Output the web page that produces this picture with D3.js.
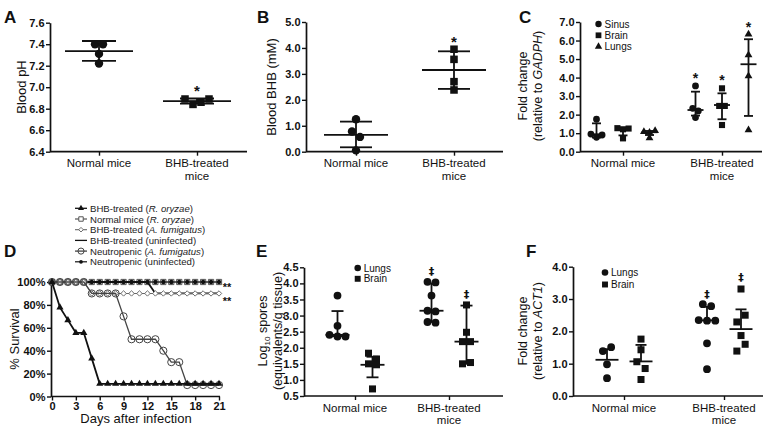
<!DOCTYPE html>
<html><head><meta charset="utf-8">
<script src="https://cdn.jsdelivr.net/npm/d3@7"></script>
<style>
body{margin:0;background:#fff}
svg{display:block}
</style></head><body>
<svg id="c" width="779" height="432"></svg>
<script>
// ---------------- DATA ----------------
const categories = ["Normal mice", "BHB-treated\nmice"];

// Panel A: blood pH
const phTicks = [6.4, 6.6, 6.8, 7.0, 7.2, 7.4, 7.6];
const phNormal = [7.40, 7.40, 7.31, 7.22];
const phBHB = [6.89, 6.84, 6.86, 6.89];
const phCenter = [7.335, 6.87];
const phHigh = [7.43, 6.895];
const phLow = [7.245, 6.848];

// Panel B: blood BHB (mM)
const bhbTicks = [0, 1, 2, 3, 4, 5];
const bhbNormal = [1.25, 0.78, 0.57, 0.05];
const bhbBHB = [3.95, 3.56, 2.70, 2.38];
const bhbCenter = [0.65, 3.15];
const bhbHigh = [1.16, 3.87];
const bhbLow = [0.17, 2.42];

// Panel C: fold change relative to GADPH
const cTicks = [0, 1, 2, 3, 4, 5, 6, 7];
const cTissues = ["Sinus", "Brain", "Lungs"];
const cNormalSinus = [1.75, 0.95, 0.78, 0.90];
const cNormalBrain = [1.27, 1.21, 1.25, 0.72];
const cNormalLungs = [1.08, 1.03, 1.13, 0.74];
const cBHBSinus = [3.55, 2.34, 2.20, 1.84];
const cBHBBrain = [3.42, 2.47, 2.47, 1.44];
const cBHBLungs = [6.34, 5.22, 4.09, 1.17];
const cCenterNormal = [0.94, 1.18, 1.05];
const cHighNormal = [1.53, 1.28, 1.12];
const cLowNormal = [0.76, 0.88, 0.90];
const cCenterBHB = [2.25, 2.52, 4.72];
const cHighBHB = [3.24, 3.15, 6.07];
const cLowBHB = [1.95, 1.75, 1.93];
const cStarBHB = [4.14, 4.01, 6.89];

// Panel D: survival
const days = [0,1,2,3,4,5,6,7,8,9,10,11,12,13,14,15,16,17,18,19,20,21];
const dTicksX = [0, 3, 6, 9, 12, 15, 18, 21];
const dTicksY = [0, 20, 40, 60, 80, 100];
const survBHBRo  = [100,77.8,66.7,55.6,55.6,33.3,11.1,11.1,11.1,11.1,11.1,11.1,11.1,11.1,11.1,11.1,11.1,11.1,11.1,11.1,11.1,11.1];
const survNormRo = [100,100,100,100,100,100,100,100,100,100,100,100,100,100,100,100,100,100,100,100,100,100];
const survBHBAf  = [100,100,100,100,100,90,90,90,90,90,90,90,90,90,90,90,90,90,90,90,90,90];
const survBHBUn  = [100,100,100,100,100,100,100,100,100,100,100,100,100,90,90,90,90,90,90,90,90,90];
const survNeuAf  = [100,100,100,100,100,90,90,90,90,70,50,50,50,50,40,30,30,10,10,10,10,10];
const survNeuUn  = [100,100,100,100,100,100,100,100,100,100,100,100,100,100,100,100,100,100,100,100,100,100];
const dLegend = [
  ["BHB-treated (", "R. oryzae", ")"],
  ["Normal mice (", "R. oryzae", ")"],
  ["BHB-treated (", "A. fumigatus", ")"],
  ["BHB-treated (uninfected)", "", ""],
  ["Neutropenic (", "A. fumigatus", ")"],
  ["Neutropenic (uninfected)", "", ""]
];

// Panel E: log10 spores
const eTicks = [0.5, 1.0, 1.5, 2.0, 2.5, 3.0, 3.5, 4.0, 4.5];
const eTissues = ["Lungs", "Brain"];
const eNormalLungs = [3.62, 2.68, 2.40, 2.35, 2.35];
const eNormalBrain = [1.83, 1.65, 1.50, 1.47, 0.72];
const eBHBLungs = [4.05, 4.03, 3.62, 3.15, 3.13, 2.80, 2.78];
const eBHBBrain = [3.33, 2.48, 2.19, 2.19, 1.50, 1.54];
const eCenterNormal = [2.40, 1.47];
const eHighNormal = [3.14, 1.72];
const eLowNormal = [2.36, 1.08];
const eCenterBHB = [3.15, 2.19];
const eHighBHB = [4.00, 3.31];
const eLowBHB = [2.80, 1.50];
const eDaggerBHB = [4.36, 3.64];

// Panel F: fold change relative to ACT1
const fTicks = [0, 1, 2, 3, 4];
const fNormalLungs = [1.39, 1.51, 0.98, 0.55];
const fNormalBrain = [1.76, 1.43, 1.06, 0.85, 0.51];
const fBHBLungs = [2.84, 2.78, 2.35, 2.33, 2.33, 1.63, 0.83];
const fBHBBrain = [3.31, 2.29, 2.50, 1.87, 1.39, 1.60];
const fCenterNormal = [1.12, 1.07];
const fHighNormal = [1.45, 1.58];
const fLowNormal = [1.12, 1.07];
const fCenterBHB = [2.34, 2.07];
const fHighBHB = [2.76, 2.68];
const fLowBHB = [2.34, 2.07];
const fDaggerBHB = [3.12, 3.66];

// ---------------- DRAWING ----------------
const FONT = '"Liberation Sans", Arial, Helvetica, sans-serif';
const INK = "#111";
const svg = d3.select("#c").attr("font-family", FONT);

function symPath(shape, r) {
  if (shape === "circle") return d3.symbol().type(d3.symbolCircle).size(Math.PI * r * r)();
  if (shape === "square") return d3.symbol().type(d3.symbolSquare).size((1.8 * r) ** 2)();
  if (shape === "triangle") return d3.symbol().type(d3.symbolTriangle).size(Math.sqrt(3) / 4 * (2.3 * r) ** 2)();
  if (shape === "diamond") return d3.symbol().type(d3.symbolSquare).size(2 * r * r)();
}

function layoutDots(vals, y, spacing, thr) {
  const order = vals.map((v, i) => i).sort((a, b) => vals[b] - vals[a] || a - b);
  const rows = [];
  order.forEach(i => {
    const py = y(vals[i]);
    const last = rows[rows.length - 1];
    if (last && Math.abs(last.y0 - py) < thr) last.items.push(i);
    else rows.push({ y0: py, items: [i] });
  });
  const out = [];
  rows.forEach(r => {
    r.items.sort((a, b) => a - b);
    const n = r.items.length;
    r.items.forEach((i, k) => out.push({ v: vals[i], py: y(vals[i]), dx: (k - (n - 1) / 2) * spacing }));
  });
  return out;
}

function panelLetter(t, x, y) {
  svg.append("text").attr("x", x).attr("y", y).text(t)
    .attr("font-size", 17).attr("font-weight", "bold").attr("fill", INK);
}

function rotTitle(x, y, lines, fs) {
  const t = svg.append("text").attr("transform", `translate(${x},${y}) rotate(-90)`)
    .attr("text-anchor", "middle").attr("font-size", fs).attr("fill", INK);
  lines.forEach((segs, li) => {
    const lineOffset = (li - (lines.length - 1) / 2) * (fs * 1.15);
    segs.forEach((s, si) => {
      const ts = t.append("tspan").text(s.t);
      if (si === 0) ts.attr("x", 0).attr("y", lineOffset + fs * 0.35);
      if (s.it) ts.attr("font-style", "italic");
      if (s.sub) ts.attr("font-size", fs * 0.65).attr("dy", fs * 0.25);
      if (s.after) ts.attr("dy", -fs * 0.25);
    });
  });
}

function yAxis(y, ticks, fmt, left) {
  const ax = svg.append("g").attr("transform", `translate(${left},0)`)
    .call(d3.axisLeft(y).tickValues(ticks).tickFormat(fmt).tickSize(4).tickSizeOuter(0));
  ax.select(".domain").attr("stroke", INK).attr("stroke-width", 1.7);
  ax.selectAll(".tick line").attr("stroke", INK).attr("stroke-width", 1.4);
  ax.selectAll(".tick text").attr("font-size", 11).attr("font-weight", "bold")
    .attr("font-family", FONT).attr("fill", INK).attr("x", -5.5);
  return ax;
}

function xCatAxis(x, left, right, bottom) {
  svg.append("line").attr("x1", left).attr("x2", right).attr("y1", bottom).attr("y2", bottom)
    .attr("stroke", INK).attr("stroke-width", 1.7);
  const ax = svg.append("g").attr("transform", `translate(0,${bottom})`)
    .call(d3.axisBottom(x).tickSize(4).tickSizeOuter(0).tickFormat(""));
  ax.select(".domain").remove();
  ax.selectAll(".tick line").attr("stroke", INK).attr("stroke-width", 1.4);
  categories.forEach(c => {
    const t = svg.append("text").attr("text-anchor", "middle").attr("font-size", 11.5).attr("fill", INK);
    c.split("\n").forEach((ln, i) => {
      t.append("tspan").attr("x", x(c)).attr("y", bottom + 15.5 + i * 12.5).text(ln);
    });
  });
}

function legendBox(items, x, y0, dy, r) {
  items.forEach((it, i) => {
    svg.append("path").attr("d", symPath(it.shape, r))
      .attr("transform", `translate(${x},${y0 + i * dy})`).attr("fill", INK);
    svg.append("text").attr("x", x + 6).attr("y", y0 + i * dy + 3.5)
      .attr("font-size", 10).attr("fill", INK).text(it.label);
  });
}

function annot(sym, x, yv, fs) {
  // centre glyph at (x, yv)
  const off = sym === "*" ? 0.57 : 0.3;
  const t = svg.append("text").attr("x", x).attr("y", yv + off * fs).attr("text-anchor", "middle")
    .attr("font-size", fs).attr("fill", INK).text(sym);
  if (sym === "*") t.attr("font-weight", "bold");
  else t.attr("font-family", '"DejaVu Sans", sans-serif').attr("font-weight", "bold");
}

function dotPanel(p) {
  const y = d3.scaleLinear().domain(p.yDomain).range([p.bottom, p.top]);
  const x = d3.scalePoint().domain(categories).range(p.centers);
  const xs = p.subs ? d3.scalePoint().domain(p.subs).range([-p.subW, p.subW]) : null;
  yAxis(y, p.yTicks, d3.format(".1f"), p.left);
  xCatAxis(x, p.left, p.right, p.bottom);
  p.groups.forEach(gr => {
    const cx = x(gr.cat) + (xs ? xs(gr.sub) : 0);
    const eg = svg.append("g").attr("stroke", INK).attr("stroke-width", 1.8);
    eg.append("line").attr("x1", cx).attr("x2", cx).attr("y1", y(gr.hi)).attr("y2", y(gr.lo));
    eg.append("line").attr("x1", cx - p.meanHalf).attr("x2", cx + p.meanHalf).attr("y1", y(gr.c)).attr("y2", y(gr.c));
    [gr.hi, gr.lo].forEach(v => {
      if (v !== gr.c) eg.append("line").attr("x1", cx - p.capHalf).attr("x2", cx + p.capHalf).attr("y1", y(v)).attr("y2", y(v));
    });
    const pos = layoutDots(gr.vals, y, p.spacing, 7);
    svg.append("g").selectAll("path").data(pos).join("path")
      .attr("d", symPath(gr.shape, p.r))
      .attr("transform", d => `translate(${cx + d.dx},${d.py})`)
      .attr("fill", INK);
    if (gr.star !== undefined) annot(p.starSym, cx, y(gr.star), p.starFs);
  });
  return { x, y, xs };
}

// ---- Panel A ----
panelLetter("A", 4, 23);
rotTitle(21, 87, [[{ t: "Blood pH" }]], 13);
dotPanel({
  left: 50, right: 247, top: 22.7, bottom: 151.7, yDomain: [6.4, 7.6], yTicks: phTicks,
  centers: [99, 197], r: 4.2, spacing: 8, meanHalf: 34, capHalf: 17, starSym: "*", starFs: 15,
  groups: [
    { cat: categories[0], vals: phNormal, c: phCenter[0], hi: phHigh[0], lo: phLow[0], shape: "circle" },
    { cat: categories[1], vals: phBHB, c: phCenter[1], hi: phHigh[1], lo: phLow[1], shape: "square", star: 6.995 }
  ]
});

// ---- Panel B ----
panelLetter("B", 257, 23);
rotTitle(271, 87, [[{ t: "Blood BHB (mM)" }]], 13);
dotPanel({
  left: 306, right: 503, top: 22, bottom: 151.7, yDomain: [0, 5], yTicks: bhbTicks,
  centers: [356, 454], r: 4.2, spacing: 8, meanHalf: 32, capHalf: 16, starSym: "*", starFs: 15,
  groups: [
    { cat: categories[0], vals: bhbNormal, c: bhbCenter[0], hi: bhbHigh[0], lo: bhbLow[0], shape: "circle" },
    { cat: categories[1], vals: bhbBHB, c: bhbCenter[1], hi: bhbHigh[1], lo: bhbLow[1], shape: "square", star: 4.37 }
  ]
});

// ---- Panel C ----
panelLetter("C", 519, 23);
rotTitle(530, 86, [[{ t: "Fold change" }], [{ t: "(relative to " }, { t: "GADPH", it: true }, { t: ")" }]], 12.5);
const cShapes = ["circle", "square", "triangle"];
const cNormVals = [cNormalSinus, cNormalBrain, cNormalLungs];
const cBHBVals = [cBHBSinus, cBHBBrain, cBHBLungs];
dotPanel({
  left: 580, right: 762, top: 22, bottom: 151.7, yDomain: [0, 7], yTicks: cTicks,
  centers: [623, 722], subs: cTissues, subW: 26.5, r: 3.4, spacing: 5.6, meanHalf: 8, capHalf: 4.5,
  starSym: "*", starFs: 14,
  groups: cTissues.map((t, i) => ({ cat: categories[0], sub: t, vals: cNormVals[i], c: cCenterNormal[i], hi: cHighNormal[i], lo: cLowNormal[i], shape: cShapes[i] }))
    .concat(cTissues.map((t, i) => ({ cat: categories[1], sub: t, vals: cBHBVals[i], c: cCenterBHB[i], hi: cHighBHB[i], lo: cLowBHB[i], shape: cShapes[i], star: cStarBHB[i] })))
});
legendBox(cTissues.map((t, i) => ({ label: t, shape: cShapes[i] })), 598.5, 24, 11.3, 3.2);

// ---- Panel D ----
panelLetter("D", 4, 257);
{
  const left = 51, right = 219, top = 282, bottom = 396.5;
  const x = d3.scaleLinear().domain([0, 21]).range([52, 219]);
  const y = d3.scaleLinear().domain([0, 100]).range([bottom, top]);
  yAxis(y, dTicksY, d => d + "%", left);
  const ax = svg.append("g").attr("transform", `translate(0,${bottom})`)
    .call(d3.axisBottom(x).tickValues(dTicksX).tickSize(4).tickSizeOuter(0));
  ax.select(".domain").remove();
  svg.append("line").attr("x1", left).attr("x2", right + 1).attr("y1", bottom).attr("y2", bottom)
    .attr("stroke", INK).attr("stroke-width", 1.7);
  ax.selectAll(".tick line").attr("stroke", INK).attr("stroke-width", 1.4);
  ax.selectAll(".tick text").attr("font-size", 11).attr("font-weight", "bold")
    .attr("font-family", FONT).attr("fill", INK).attr("y", 6);
  rotTitle(14, 339, [[{ t: "% Survival" }]], 13);
  svg.append("text").attr("x", 136).attr("y", 423).attr("text-anchor", "middle")
    .attr("font-size", 13).attr("fill", INK).text("Days after infection");

  const series = [
    { vals: survNormRo, shape: "square", r: 2.9, fill: "#fff", stroke: "#555", lw: 1.2, mw: 1 },
    { vals: survNeuUn, shape: "circle", r: 2.2, fill: INK, stroke: INK, lw: 1.2, mw: 0 },
    { vals: survBHBUn, shape: null, r: 0, fill: INK, stroke: INK, lw: 1.8, mw: 0 },
    { vals: survBHBAf, shape: "diamond", r: 2.7, fill: "#fff", stroke: "#666", lw: 1.1, mw: 0.9 },
    { vals: survNeuAf, shape: "circle", r: 3.6, fill: "none", stroke: "#444", lw: 1.3, mw: 1 },
    { vals: survBHBRo, shape: "triangle", r: 3.1, fill: INK, stroke: INK, lw: 1.8, mw: 0 }
  ];
  const line = d3.line().x((d, i) => x(days[i])).y(d => y(d));
  series.forEach(s => {
    svg.append("path").attr("d", line(s.vals)).attr("fill", "none").attr("stroke", s.stroke).attr("stroke-width", s.lw);
    if (s.shape) {
      svg.append("g").selectAll("path").data(s.vals).join("path")
        .attr("d", symPath(s.shape, s.r))
        .attr("transform", (d, i) => `translate(${x(days[i])},${y(d)})` + (s.shape === "diamond" ? " rotate(45)" : ""))
        .attr("fill", s.fill).attr("stroke", s.mw ? s.stroke : "none").attr("stroke-width", s.mw);
    }
  });
  // significance
  [[100, 3], [90, 5.5]].forEach(([v, off]) => {
    svg.append("text").attr("x", x(21) + 8).attr("y", y(v) + off + 0.57 * 11).attr("text-anchor", "middle")
      .attr("font-size", 11).attr("font-weight", "bold").attr("fill", INK).text("**");
  });
  // legend
  const legStyle = [series[5], series[0], series[3], series[2], series[4], series[1]];
  dLegend.forEach((segs, i) => {
    const ly = 208.3 + i * 10.7;
    const s = legStyle[i];
    svg.append("line").attr("x1", 75).attr("x2", 87).attr("y1", ly).attr("y2", ly)
      .attr("stroke", s.stroke).attr("stroke-width", Math.min(s.lw, 1.3));
    if (s.shape) {
      svg.append("path").attr("d", symPath(s.shape, s.r * 0.85))
        .attr("transform", `translate(81,${ly})` + (s.shape === "diamond" ? " rotate(45)" : ""))
        .attr("fill", s.fill).attr("stroke", s.mw ? s.stroke : "none").attr("stroke-width", s.mw);
    }
    const t = svg.append("text").attr("x", 90).attr("y", ly + 3.5).attr("font-size", 9.6).attr("fill", "#222");
    t.append("tspan").text(segs[0]);
    if (segs[1]) t.append("tspan").attr("font-style", "italic").text(segs[1]);
    if (segs[2]) t.append("tspan").text(segs[2]);
  });
}

// ---- Panel E ----
panelLetter("E", 256, 257);
rotTitle(270, 331, [[{ t: "Log" }, { t: "10", sub: true }, { t: " spores", after: true }], [{ t: "(equivalents/g tissue)" }]], 12.5);
const eShapes = ["circle", "square"];
dotPanel({
  left: 304, right: 503, top: 267.3, bottom: 396, yDomain: [0.5, 4.5], yTicks: eTicks,
  centers: [355, 449], subs: eTissues, subW: 17.5, r: 3.9, spacing: 8, meanHalf: 12, capHalf: 6,
  starSym: "‡", starFs: 11,
  groups: [
    { cat: categories[0], sub: "Lungs", vals: eNormalLungs, c: eCenterNormal[0], hi: eHighNormal[0], lo: eLowNormal[0], shape: "circle" },
    { cat: categories[0], sub: "Brain", vals: eNormalBrain, c: eCenterNormal[1], hi: eHighNormal[1], lo: eLowNormal[1], shape: "square" },
    { cat: categories[1], sub: "Lungs", vals: eBHBLungs, c: eCenterBHB[0], hi: eHighBHB[0], lo: eLowBHB[0], shape: "circle", star: eDaggerBHB[0] },
    { cat: categories[1], sub: "Brain", vals: eBHBBrain, c: eCenterBHB[1], hi: eHighBHB[1], lo: eLowBHB[1], shape: "square", star: eDaggerBHB[1] }
  ]
});
legendBox(eTissues.map((t, i) => ({ label: t, shape: eShapes[i] })), 357.7, 268, 10.8, 3.3);

// ---- Panel F ----
panelLetter("F", 526, 257);
rotTitle(530, 331, [[{ t: "Fold change" }], [{ t: "(relative to " }, { t: "ACT1", it: true }, { t: ")" }]], 12.5);
dotPanel({
  left: 573, right: 763, top: 266.7, bottom: 396, yDomain: [0, 4], yTicks: fTicks,
  centers: [624, 724], subs: eTissues, subW: 17, r: 3.9, spacing: 8.3, meanHalf: 11.5, capHalf: 5.5,
  starSym: "‡", starFs: 11,
  groups: [
    { cat: categories[0], sub: "Lungs", vals: fNormalLungs, c: fCenterNormal[0], hi: fHighNormal[0], lo: fLowNormal[0], shape: "circle" },
    { cat: categories[0], sub: "Brain", vals: fNormalBrain, c: fCenterNormal[1], hi: fHighNormal[1], lo: fLowNormal[1], shape: "square" },
    { cat: categories[1], sub: "Lungs", vals: fBHBLungs, c: fCenterBHB[0], hi: fHighBHB[0], lo: fLowBHB[0], shape: "circle", star: fDaggerBHB[0] },
    { cat: categories[1], sub: "Brain", vals: fBHBBrain, c: fCenterBHB[1], hi: fHighBHB[1], lo: fLowBHB[1], shape: "square", star: fDaggerBHB[1] }
  ]
});
legendBox(eTissues.map((t, i) => ({ label: t, shape: eShapes[i] })), 605, 272.5, 12, 3.3);
</script>
</body></html>
